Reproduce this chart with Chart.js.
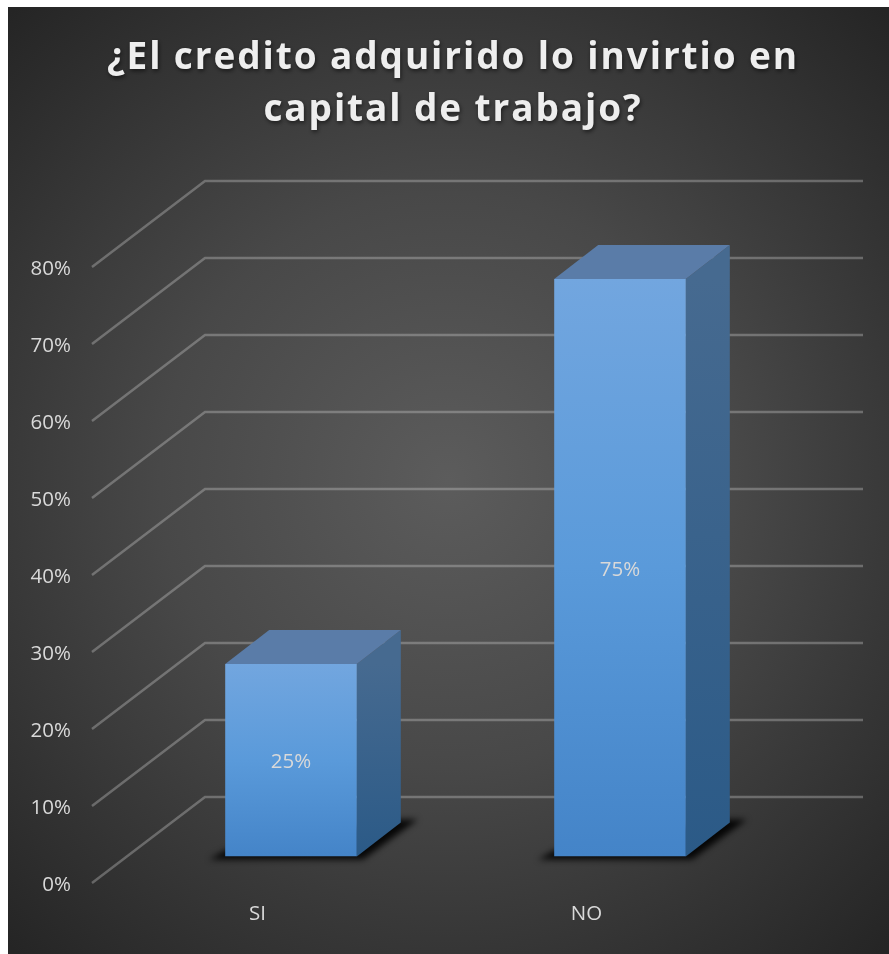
<!DOCTYPE html>
<html>
<head>
<meta charset="utf-8">
<title>Credito</title>
<script src="https://cdn.jsdelivr.net/npm/chart.js@4"></script>
<style>
  html, body { margin: 0; padding: 0; background: #fff; }
  canvas { display: block; }
</style>
</head>
<body>
<canvas id="creditoChart" width="889" height="954"></canvas>
<script>
var titleLines = ["¿El credito adquirido lo invirtio en", "capital de trabajo?"];
var categories = ["SI", "NO"];
var values = [25, 75];
var yTicks = [0, 10, 20, 30, 40, 50, 60, 70, 80];

// how far the back wall and the bars sit behind the axis plane
var wallDepth = { x: 113, y: -86 };
var barOffset = { x: 33.5, y: -26.5 };
var barDepth = { x: 44, y: -34 };

function poly(ctx, pts) {
     ctx.beginPath();
     ctx.moveTo(pts[0][0], pts[0][1]);
     for (var i = 1; i < pts.length; i++) ctx.lineTo(pts[i][0], pts[i][1]);
     ctx.closePath();
}

var panelPlugin = {
     id: 'panel',
     beforeDraw: function (chart) {
          var ctx = chart.ctx;
          var g = ctx.createRadialGradient(448, 480, 0, 448, 480, 640);
          g.addColorStop(0, '#5c5c5c');
          g.addColorStop(0.45, '#484848');
          g.addColorStop(1, '#252525');
          ctx.save();
          ctx.fillStyle = g;
          ctx.fillRect(8, 7, 881, 947);
          ctx.restore();
     }
};

var wallPlugin = {
     id: 'wall',
     beforeDatasetsDraw: function (chart) {
          var ctx = chart.ctx;
          var y = chart.scales.y;
          var x0 = chart.chartArea.left - 1;
          ctx.save();
          ctx.strokeStyle = 'rgba(217,217,217,0.33)';
          ctx.lineWidth = 2.5;
          yTicks.forEach(function (t) {
               var py = y.getPixelForValue(t);
               ctx.beginPath();
               ctx.moveTo(x0, py);
               ctx.lineTo(x0 + wallDepth.x, py + wallDepth.y);
               ctx.lineTo(x0 + wallDepth.x + 658, py + wallDepth.y);
               ctx.stroke();
          });
          ctx.restore();
     }
};

var box3dPlugin = {
     id: 'box3d',
     beforeDatasetDraw: function (chart, args) {
          var ctx = chart.ctx;
          args.meta.data.forEach(function (bar) {
               var l = bar.x - bar.width / 2 + barOffset.x;
               var r = bar.x + bar.width / 2 + barOffset.x;
               var t = bar.y + barOffset.y;
               var b = bar.base + barOffset.y;
               var dx = barDepth.x, dy = barDepth.y;

               // ground shadow
               ctx.save();
               ctx.filter = 'blur(3px)';
               ctx.fillStyle = 'rgba(0,0,0,0.9)';
               poly(ctx, [[l - 16, b + 3], [r + 6, b + 3], [r + dx + 17, b + dy - 3], [r + dx - 4, b + dy - 3], [l, b - 6]]);
               ctx.fill();
               ctx.restore();

               // side
               var gs = ctx.createLinearGradient(0, t, 0, b);
               gs.addColorStop(0, '#466a90');
               gs.addColorStop(1, '#2b5a87');
               ctx.fillStyle = gs;
               poly(ctx, [[r, t], [r + dx, t + dy], [r + dx, b + dy], [r, b]]);
               ctx.fill();

               // top
               ctx.fillStyle = '#5a7ca8';
               poly(ctx, [[l, t], [l + dx, t + dy], [r + dx, t + dy], [r, t]]);
               ctx.fill();
          });
          ctx.save();
          ctx.translate(barOffset.x, barOffset.y);
     },
     afterDatasetDraw: function (chart, args) {
          var ctx = chart.ctx;
          ctx.restore();
          ctx.save();
          ctx.fillStyle = '#d9d9d9';
          ctx.font = '20.5px "Open Sans"';
          ctx.textAlign = 'center';
          ctx.textBaseline = 'middle';
          args.meta.data.forEach(function (bar, i) {
               var cy = (bar.y + bar.base) / 2 + barOffset.y;
               ctx.fillText(values[i] + '%', bar.x + barOffset.x, cy + 2);
          });
          ctx.restore();
     }
};

var titlePlugin = {
     id: 'spacedTitle',
     afterDraw: function (chart) {
          var ctx = chart.ctx;
          ctx.save();
          ctx.font = 'bold 37px "Open Sans"';
          ctx.letterSpacing = '1.9px';
          ctx.fillStyle = '#eeeeee';
          ctx.textAlign = 'center';
          ctx.textBaseline = 'middle';
          ctx.shadowColor = 'rgba(0,0,0,0.55)';
          ctx.shadowBlur = 4;
          ctx.shadowOffsetX = 1;
          ctx.shadowOffsetY = 2;
          titleLines.forEach(function (line, i) {
               ctx.fillText(line, 453, 58 + i * 52);
          });
          ctx.restore();
     }
};

new Chart('creditoChart', {
     type: 'bar',
     data: {
          labels: categories,
          datasets: [{
               data: values,
               borderWidth: 0,
               barPercentage: 0.4,
               categoryPercentage: 1,
               backgroundColor: function (c) {
                    var area = c.chart.chartArea;
                    if (!area || c.dataIndex === undefined) return '#5b9bd5';
                    var y = c.chart.scales.y;
                    var g = c.chart.ctx.createLinearGradient(0, y.getPixelForValue(values[c.dataIndex]), 0, y.getPixelForValue(0));
                    g.addColorStop(0, '#72a6df');
                    g.addColorStop(0.5, '#5a9ada');
                    g.addColorStop(1, '#4484c8');
                    return g;
               }
          }]
     },
     options: {
          responsive: false,
          animation: false,
          layout: { padding: { top: 267, left: 8, right: 138, bottom: 11 } },
          plugins: {
               legend: { display: false },
               tooltip: { enabled: false },
               title: { display: false }
          },
          scales: {
               x: {
                    grid: { display: false },
                    border: { display: false },
                    ticks: {
                         color: '#d9d9d9',
                         padding: 11,
                         font: { family: 'Open Sans', size: 20.5 },
                         maxRotation: 0
                    },
                    afterFit: function (s) {
                         s.height = 60;
                         s.paddingLeft = 0;
                         s.paddingRight = 0;
                    }
               },
               y: {
                    min: 0,
                    max: 80,
                    grid: { display: false },
                    border: { display: false },
                    ticks: {
                         stepSize: 10,
                         color: '#d9d9d9',
                         padding: 14,
                         labelOffset: 2,
                         font: { family: 'Open Sans', size: 20.5 },
                         callback: function (v) { return v + '%'; }
                    },
                    afterFit: function (s) {
                         s.width = 85;
                         s.paddingTop = 0;
                         s.paddingBottom = 0;
                    }
               }
          }
     },
     plugins: [panelPlugin, wallPlugin, box3dPlugin, titlePlugin]
});
</script>
</body>
</html>
